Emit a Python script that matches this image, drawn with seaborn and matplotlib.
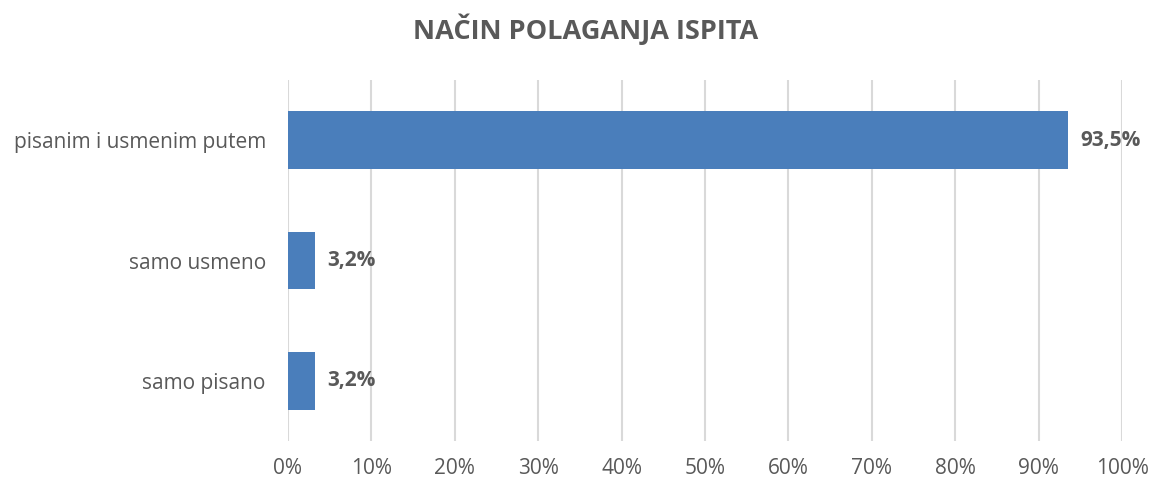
import matplotlib
matplotlib.use("Agg")
import matplotlib.pyplot as plt
import pandas as pd
import seaborn as sns
from matplotlib.ticker import FuncFormatter, MultipleLocator

CATEGORIES = ["pisanim i usmenim putem", "samo usmeno", "samo pisano"]
VALUES = [93.5, 3.2, 3.2]
LABELS = ["93,5%", "3,2%", "3,2%"]

BAR_COLOR = "#4A7EBB"
TEXT_COLOR = "#595959"
GRID_COLOR = "#D9D9D9"

sns.set_theme(style="white")
plt.rcParams["font.family"] = ["Open Sans", "DejaVu Sans"]

df = pd.DataFrame({"kategorija": CATEGORIES, "udio": VALUES})

fig = plt.figure(figsize=(11.52, 4.82), dpi=100)
ax = fig.add_axes([0.25, 0.085, 0.724, 0.749])

sns.barplot(data=df, x="udio", y="kategorija", color=BAR_COLOR,
            width=0.48, saturation=1, linewidth=0, ax=ax, zorder=3)

for i, (v, lab) in enumerate(zip(VALUES, LABELS)):
    ax.text(v + 1.5, i, lab, va="center", ha="left", fontsize=15,
            fontweight="bold", color=TEXT_COLOR)

ax.set_xlim(0, 100)
ax.xaxis.set_major_locator(MultipleLocator(10))
ax.xaxis.set_major_formatter(FuncFormatter(lambda x, _: f"{x:.0f}%"))
ax.grid(axis="x", color=GRID_COLOR, linewidth=1.5, zorder=0)
ax.set_axisbelow(True)
for s in ax.spines.values():
    s.set_visible(False)
ax.set_xlabel("")
ax.set_ylabel("")
ax.tick_params(axis="both", length=0, labelsize=15, colors=TEXT_COLOR)
ax.tick_params(axis="x", pad=12)
ax.tick_params(axis="y", pad=16)

fig.suptitle("NAČIN POLAGANJA ISPITA", x=0.508, y=0.972, fontsize=19.5,
             fontweight="bold", color=TEXT_COLOR)

fig.savefig("out.png", dpi=100)
